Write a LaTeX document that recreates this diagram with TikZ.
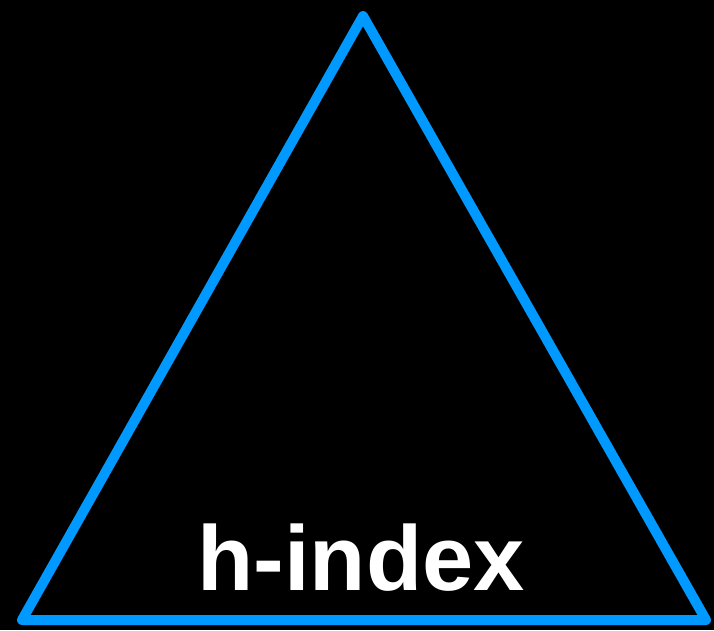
\documentclass[tikz,border=0pt]{standalone}
\usepackage{fontspec}
\setmainfont{Liberation Sans}
\definecolor{triblue}{RGB}{0,153,255}
\begin{document}
\begin{tikzpicture}[x=1pt,y=1pt,
  tri/.style={draw=triblue,line width=10pt,line join=round,line cap=round},
  lbl/.style={text=white,font=\fontsize{92}{92}\selectfont\bfseries,inner sep=0pt,anchor=base}]
\fill[black] (0,0) rectangle (714,630);
\useasboundingbox (0,0) rectangle (714,630);
\coordinate (top) at (363,614);
\coordinate (bl) at (22,10);
\coordinate (br) at (706,10);
\draw[tri] (top) -- (bl) -- (br) -- cycle;
\node[lbl] (title) at (361,40) {h-index};
\end{tikzpicture}
\end{document}
